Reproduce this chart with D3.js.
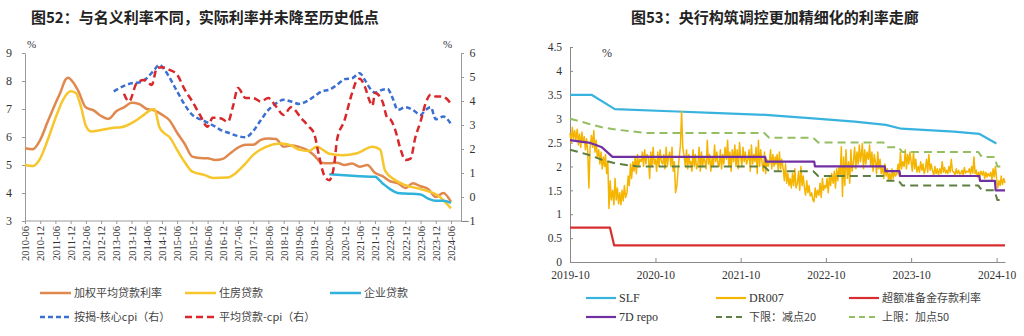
<!DOCTYPE html>
<html lang="zh">
<head>
<meta charset="UTF-8">
<title>图52 / 图53</title>
<script src="https://d3js.org/d3.v7.min.js"></script>
<style>
  body { margin: 0; background: #fff; }
  svg { display: block; }
  .num { font-family: "Liberation Serif", "Times New Roman", serif; fill: #333; }
  .cjk { font-family: "Noto Sans CJK SC", sans-serif; fill: #444; }
  .title { font-family: "Noto Sans CJK SC", sans-serif; font-weight: bold; font-size: 15px; fill: #222; }
</style>
</head>
<body>
<svg id="chart" width="1024" height="336"></svg>
<script>
// ---------- 图52 data (monthly points, "YYYY-MM") ----------
const wavgRate = [["2010-06",5.60],["2010-09",5.56],["2010-12",5.90],["2011-03",6.55],["2011-06",7.20],["2011-08",7.60],
  ["2011-10",8.05],["2011-11",8.12],["2012-01",7.95],["2012-03",7.65],["2012-06",7.05],["2012-09",6.95],["2012-12",6.75],
  ["2013-03",6.65],["2013-06",6.92],["2013-09",7.06],["2013-12",7.22],["2014-03",7.18],["2014-06",7.00],["2014-09",6.95],
  ["2014-12",6.80],["2015-03",6.60],["2015-06",6.15],["2015-09",5.75],["2015-12",5.30],["2016-03",5.25],["2016-06",5.24],
  ["2016-09",5.18],["2016-12",5.22],["2017-03",5.42],["2017-06",5.62],["2017-09",5.72],["2017-12",5.72],["2018-03",5.90],
  ["2018-06",5.95],["2018-09",5.93],["2018-12",5.65],["2019-03",5.70],["2019-06",5.65],["2019-09",5.55],["2019-12",5.35],
  ["2020-03",5.08],["2020-06",5.06],["2020-09",5.08],["2020-12",5.00],["2021-03",5.05],["2021-06",4.94],["2021-09",5.00],
  ["2021-12",4.72],["2022-03",4.60],["2022-06",4.42],["2022-09",4.35],["2022-12",4.18],["2023-03",4.35],["2023-06",4.24],
  ["2023-09",4.14],["2023-12",3.86],["2024-03",4.00],["2024-06",3.68]];

const mortgageRate = [["2010-06",5.00],["2010-09",4.96],["2010-12",5.24],["2011-03",5.90],["2011-06",6.67],["2011-09",7.33],
  ["2011-12",7.63],["2012-02",7.57],["2012-04",7.10],["2012-06",6.40],["2012-08",6.20],["2012-12",6.25],["2013-05",6.33],
  ["2013-08",6.35],["2014-01",6.55],["2014-05",6.80],["2014-08",6.98],["2014-09",7.00],["2014-11",6.35],["2015-01",6.13],
  ["2015-03",6.00],["2015-06",5.54],["2015-09",5.10],["2015-12",4.76],["2016-05",4.64],["2016-08",4.54],["2017-02",4.55],
  ["2017-05",4.70],["2017-09",5.06],["2017-12",5.36],["2018-05",5.65],["2018-11",5.77],["2019-03",5.70],["2019-06",5.55],
  ["2019-10",5.50],["2020-01",5.65],["2020-06",5.40],["2020-11",5.35],["2021-05",5.42],["2021-11",5.65],["2022-02",5.55],
  ["2022-04",4.80],["2022-08",4.46],["2022-12",4.28],["2023-06",4.14],["2024-01",3.90],["2024-06",3.45]];

const corpRate = [["2020-06",4.67],["2020-12",4.63],["2021-06",4.60],["2021-12",4.58],["2022-03",4.35],["2022-06",4.14],
  ["2022-09",4.00],["2022-12",3.98],["2023-06",3.95],["2023-09",3.80],["2023-12",3.72],["2024-03",3.72],["2024-06",3.65]];

// right axis
const mortgageRealCore = [["2013-05",4.40],["2013-09",4.63],["2013-12",4.74],["2014-03",4.77],["2014-06",4.95],["2014-09",5.30],
  ["2014-11",5.51],["2015-01",5.30],["2015-06",4.40],["2015-09",3.84],["2015-12",3.42],["2016-03",3.24],["2016-06",3.10],
  ["2016-09",2.93],["2016-11",2.80],["2017-03",2.65],["2017-05",2.57],["2017-09",2.49],["2017-12",2.75],["2018-03",3.20],
  ["2018-06",3.63],["2018-09",3.90],["2018-12",4.05],["2019-03",3.98],["2019-06",3.88],["2019-09",3.98],["2019-12",4.19],
  ["2020-03",4.40],["2020-06",4.47],["2020-09",4.67],["2020-12",4.91],["2021-03",4.95],["2021-06",5.16],["2021-08",4.88],
  ["2021-10",4.53],["2021-12",4.35],["2022-03",4.47],["2022-05",4.50],["2022-07",4.12],["2022-09",3.63],["2022-12",3.74],
  ["2023-03",3.63],["2023-06",3.42],["2023-08",3.63],["2023-10",3.74],["2023-12",3.24],["2024-03",3.35],["2024-06",3.04]];

const loanRealCpi = [["2013-09",4.30],["2013-11",3.98],["2014-02",4.74],["2014-05",4.88],["2014-08",4.67],["2014-10",5.37],
  ["2014-12",5.41],["2015-03",5.30],["2015-06",5.10],["2015-09",4.47],["2015-12",3.98],["2016-03",3.42],["2016-06",2.93],
  ["2016-08",3.30],["2016-11",3.28],["2017-02",3.14],["2017-04",3.77],["2017-06",4.54],["2017-09",4.12],["2017-12",4.12],
  ["2018-03",3.98],["2018-06",4.12],["2018-09",3.77],["2018-12",3.42],["2019-03",3.74],["2019-07",3.28],["2019-10",2.93],
  ["2019-12",2.65],["2020-02",1.68],["2020-04",0.90],["2020-06",0.70],["2020-08",1.40],["2020-09",2.37],["2020-12",3.20],
  ["2021-03",4.33],["2021-05",4.88],["2021-06",4.93],["2021-08",4.60],["2021-10",3.98],["2021-11",3.80],["2021-12",4.33],
  ["2022-03",3.98],["2022-05",3.28],["2022-06",3.24],["2022-08",2.80],["2022-10",2.03],["2022-12",1.54],["2023-02",1.60],
  ["2023-04",2.50],["2023-06",3.14],["2023-08",3.90],["2023-10",4.26],["2023-12",4.19],["2024-02",4.19],["2024-04",4.12],
  ["2024-06",3.88]];

const leftTicksL = [3, 4, 5, 6, 7, 8, 9];
const leftTicksR = [-1, 0, 1, 2, 3, 4, 5, 6];

// ---------- 图53 data (daily dates) ----------
const slf = [["2019-10-01",3.50],["2020-01-01",3.50],["2020-04-10",3.20],["2020-12-31",3.15],["2021-06-01",3.12],
  ["2022-01-15",3.08],["2022-08-20",3.00],["2023-02-01",2.94],["2023-06-15",2.87],["2023-08-20",2.79],["2024-04-01",2.73],
  ["2024-07-20",2.68],["2024-09-30",2.48]];

const excessReserve = [["2019-10-01",0.72],["2020-03-20",0.72],["2020-04-07",0.35],["2024-11-06",0.35]];

const repo7d = [["2019-10-01",2.55],["2019-11-15",2.52],["2019-12-20",2.50],["2020-01-20",2.45],["2020-02-15",2.40],
  ["2020-03-31",2.20],["2022-01-14",2.20],["2022-01-17",2.10],["2022-08-12",2.10],["2022-08-15",2.00],["2023-06-10",2.00],
  ["2023-06-13",1.90],["2023-08-12",1.90],["2023-08-15",1.80],["2024-07-19",1.80],["2024-07-22",1.70],["2024-09-24",1.70],
  ["2024-09-27",1.50],["2024-11-06",1.50]];

const upperBand = [["2019-10-01",3.00],["2019-12-15",2.90],["2020-02-15",2.82],["2020-04-15",2.77],["2020-06-15",2.74],
  ["2020-08-15",2.70],["2022-01-10",2.70],["2022-01-31",2.60],["2022-08-08",2.60],["2022-08-29",2.50],["2023-06-05",2.50],
  ["2023-06-20",2.40],["2023-08-08",2.40],["2023-08-25",2.30],["2024-07-15",2.30],["2024-07-30",2.20],["2024-09-22",2.20],
  ["2024-10-04",2.00],["2024-10-25",2.00]];

const lowerBand = [["2019-10-01",2.35],["2019-12-15",2.25],["2020-02-15",2.14],["2020-04-15",2.06],["2020-06-15",2.02],
  ["2020-07-20",2.00],["2022-01-10",2.00],["2022-01-31",1.90],["2022-08-08",1.90],["2022-08-29",1.80],["2023-06-05",1.80],
  ["2023-06-20",1.70],["2023-08-08",1.70],["2023-08-25",1.60],["2024-07-15",1.60],["2024-07-30",1.50],["2024-09-22",1.50],
  ["2024-10-04",1.30],["2024-10-25",1.30]];

// DR007: readings per month (spread through the month)
const dr007 = [
  ["2019-10",[2.70,2.50,2.82,2.58,2.75,2.55]], ["2019-11",[2.78,2.45,2.68,2.40,2.72,2.50]],
  ["2019-12",[2.62,2.35,2.58,2.30,1.55,2.40]], ["2020-01",[2.65,2.40,2.75,2.30,2.55,2.20]],
  ["2020-02",[2.35,2.05,2.30,1.95,2.20,2.00]], ["2020-03",[2.25,1.85,2.10,1.12,1.70,1.30]],
  ["2020-04",[1.50,1.20,1.75,1.30,1.55,1.22]], ["2020-05",[1.45,1.20,1.50,1.28,1.60,1.35]],
  ["2020-06",[1.45,1.80,1.60,2.05,1.75,2.10]], ["2020-07",[1.90,2.20,1.85,2.25,2.00,2.15]],
  ["2020-08",[2.10,2.30,2.00,2.35,2.05,2.25]], ["2020-09",[2.20,1.75,2.30,2.00,2.40,2.05]],
  ["2020-10",[2.15,1.90,2.30,2.00,2.35,2.10]], ["2020-11",[2.05,2.25,1.95,2.40,2.00,2.20]],
  ["2020-12",[2.30,2.00,2.40,1.90,2.10,1.45]], ["2021-01",[1.60,1.95,2.20,2.45,3.15,2.40]],
  ["2021-02",[2.20,2.00,2.35,1.95,2.25,2.05]], ["2021-03",[2.10,1.90,2.35,2.00,2.25,1.95]],
  ["2021-04",[2.05,2.40,1.90,2.30,2.00,2.20]], ["2021-05",[2.10,1.95,2.55,2.05,2.25,1.90]],
  ["2021-06",[2.20,2.00,2.45,2.10,2.30,2.05]], ["2021-07",[2.00,2.35,1.95,2.25,2.05,2.40]],
  ["2021-08",[2.15,2.55,2.00,2.30,1.90,2.35]], ["2021-09",[2.10,2.45,2.00,2.35,1.95,2.50]],
  ["2021-10",[2.20,2.00,2.40,2.10,2.30,2.05]], ["2021-11",[2.15,2.35,1.90,2.45,2.05,2.25]],
  ["2021-12",[2.10,2.40,1.85,2.55,2.00,2.35]], ["2022-01",[2.05,1.90,2.30,1.85,2.15,2.00]],
  ["2022-02",[2.10,2.35,1.95,2.25,2.00,2.20]], ["2022-03",[2.05,2.25,1.90,2.30,1.95,2.15]],
  ["2022-04",[1.95,1.70,2.05,1.65,1.85,1.60]], ["2022-05",[1.75,1.55,1.85,1.60,1.95,1.55]],
  ["2022-06",[1.65,1.90,1.50,2.00,1.60,1.80]], ["2022-07",[1.55,1.40,1.70,1.45,1.60,1.38]],
  ["2022-08",[1.45,1.30,1.26,1.55,1.35,1.50]], ["2022-09",[1.40,1.65,1.35,1.75,1.50,1.60]],
  ["2022-10",[1.55,1.75,1.45,1.80,1.60,1.85]], ["2022-11",[1.65,1.90,1.55,1.95,1.70,2.00]],
  ["2022-12",[1.80,2.41,1.37,2.20,1.60,2.35]], ["2023-01",[1.75,2.10,1.65,2.35,1.90,2.05]],
  ["2023-02",[2.40,1.95,2.30,2.05,2.45,2.10]], ["2023-03",[2.20,2.48,1.95,2.35,2.05,2.30]],
  ["2023-04",[2.15,2.45,2.00,2.30,1.90,2.25]], ["2023-05",[2.10,1.85,2.30,1.95,2.15,1.85]],
  ["2023-06",[2.00,1.75,2.05,1.80,1.95,1.72]], ["2023-07",[1.85,1.70,1.95,1.75,1.90,1.80]],
  ["2023-08",[1.85,2.05,1.80,2.30,1.95,2.10]], ["2023-09",[2.00,2.35,1.95,2.25,2.05,2.30]],
  ["2023-10",[2.10,1.90,2.30,1.95,2.15,1.88]], ["2023-11",[2.00,1.88,2.10,1.92,2.05,1.85]],
  ["2023-12",[1.95,2.15,1.88,2.25,1.92,2.05]], ["2024-01",[1.90,1.82,2.00,1.85,1.95,1.83]],
  ["2024-02",[1.95,1.85,2.10,1.88,1.98,1.86]], ["2024-03",[1.92,1.85,2.00,1.88,2.15,1.90]],
  ["2024-04",[1.88,1.82,1.95,1.85,1.92,1.84]], ["2024-05",[1.85,1.92,1.82,1.98,1.86,1.90]],
  ["2024-06",[1.88,1.95,1.84,2.00,1.86,2.20]], ["2024-07",[1.85,1.92,1.78,1.88,1.80,1.90]],
  ["2024-08",[1.82,1.90,1.75,1.88,1.78,1.85]], ["2024-09",[1.80,1.88,1.72,1.95,1.78,2.00]],
  ["2024-10",[1.75,1.55,1.70,1.60,1.80,1.62]], ["2024-11",[1.75,1.65]]
];

const rightTicksY = [0, 0.5, 1, 1.5, 2, 2.5, 3, 3.5, 4, 4.5];
const rightTicksX = ["2019-10","2020-10","2021-10","2022-10","2023-10","2024-10"];

// ---------- drawing ----------
const svg = d3.select("#chart");
const parseM = d3.timeParse("%Y-%m");
const parseD = d3.timeParse("%Y-%m-%d");
const axisColor = "#9a9a9a";

// ===== 图52 =====
svg.append("text").attr("class", "title").attr("x", 31).attr("y", 23)
  .text("图52：与名义利率不同，实际利率并未降至历史低点");

const xL = d3.scaleTime().domain([parseM("2010-06"), parseM("2024-06")]).range([25, 451]);
const yL = d3.scaleLinear().domain([3, 9]).range([221, 53]);
const yR = d3.scaleLinear().domain([-1, 6]).range([221, 53]);

const halfYears = [];
for (let y = 2010; y <= 2024; y++) {
  ["06", "12"].forEach(m => {
    const d = parseM(y + "-" + m);
    if (d >= xL.domain()[0] && d <= xL.domain()[1]) halfYears.push(d);
  });
}

const gL = svg.append("g");
const axL = gL.append("g").attr("transform", "translate(25,0)")
  .call(d3.axisLeft(yL).tickValues(leftTicksL).tickFormat(d3.format("d"))
    .tickSize(3).tickPadding(10).tickSizeOuter(0));
const axR = gL.append("g").attr("transform", "translate(461,0)")
  .call(d3.axisRight(yR).tickValues(leftTicksR).tickFormat(d3.format("d"))
    .tickSize(3).tickPadding(4).tickSizeOuter(0));
axR.selectAll("text").attr("text-anchor", "end").attr("x", 14.5);
const axB = gL.append("g").attr("transform", "translate(0,221)")
  .call(d3.axisBottom(xL).tickValues(halfYears).tickFormat(d3.timeFormat("%Y-%m")).tickSize(3).tickSizeOuter(0));
axB.selectAll("text").attr("transform", "rotate(-90)").attr("x", -5).attr("y", 0)
  .attr("dy", "0.35em").attr("text-anchor", "end").style("font-size", "10.5px");
axB.select(".domain").attr("d", "M25,0H461");
[axL, axR].forEach(a => a.selectAll("text").style("font-size", "12px"));
[axL, axR, axB].forEach(a => {
  a.attr("font-family", null).attr("font-size", null);
  a.selectAll("text").attr("class", "num").attr("fill", null);
  a.selectAll("line, path").attr("stroke", axisColor);
});
gL.append("text").attr("class", "num").attr("x", 27).attr("y", 48).style("font-size", "11px").text("%");
gL.append("text").attr("class", "num").attr("x", 443).attr("y", 48).style("font-size", "11px").text("%");

const leftSeries = [
  { name: "加权平均贷款利率", data: wavgRate, y: yL, color: "#E0894F", dash: null },
  { name: "住房贷款", data: mortgageRate, y: yL, color: "#F6C62C", dash: null },
  { name: "企业贷款", data: corpRate, y: yL, color: "#2FB2DB", dash: null },
  { name: "按揭-核心cpi（右）", data: mortgageRealCore, y: yR, color: "#3C6FD2", dash: "5,3" },
  { name: "平均贷款-cpi（右）", data: loanRealCpi, y: yR, color: "#D8282B", dash: "7,4" }
];

leftSeries.forEach(s => {
  const line = d3.line().curve(d3.curveMonotoneX)
    .x(d => xL(parseM(d[0]))).y(d => s.y(d[1]));
  gL.append("path").datum(s.data).attr("d", line)
    .attr("fill", "none").attr("stroke", s.color).attr("stroke-width", 2.5)
    .attr("stroke-dasharray", s.dash);
});

const legL = [[40, 293], [185, 293], [330, 293], [40, 317], [185, 317]];
leftSeries.forEach((s, i) => {
  const [lx, ly] = legL[i];
  svg.append("line").attr("x1", lx).attr("x2", lx + 31).attr("y1", ly).attr("y2", ly)
    .attr("stroke", s.color).attr("stroke-width", 2.5).attr("stroke-dasharray", s.dash);
  svg.append("text").attr("class", "cjk").attr("x", lx + 34).attr("y", ly).attr("dy", "0.35em")
    .style("font-size", "11px").text(s.name);
});

// ===== 图53 =====
svg.append("text").attr("class", "title").attr("x", 631).attr("y", 23)
  .text("图53：央行构筑调控更加精细化的利率走廊");

const x2 = d3.scaleTime().domain([parseD("2019-10-01"), parseD("2024-11-06")]).range([570, 1005]);
const y2 = d3.scaleLinear().domain([0, 4.5]).range([262, 47]);

const g2 = svg.append("g");
const ax2L = g2.append("g").attr("transform", "translate(570,0)")
  .call(d3.axisLeft(y2).tickValues(rightTicksY).tickSizeInner(-3).tickSizeOuter(0).tickPadding(8)
    .tickFormat(d3.format("~g")));
const ax2B = g2.append("g").attr("transform", "translate(0,262)")
  .call(d3.axisBottom(x2).tickValues(rightTicksX.map(parseM)).tickFormat(d3.timeFormat("%Y-%m"))
    .tickSizeInner(-4).tickSizeOuter(0).tickPadding(9));
[ax2L, ax2B].forEach(a => {
  a.attr("font-family", null).attr("font-size", null);
  a.selectAll("text").attr("class", "num").attr("fill", null).style("font-size", "11.5px");
  a.selectAll("line, path").attr("stroke", "#8a8a8a");
});
g2.append("text").attr("class", "num").attr("x", 602).attr("y", 57).style("font-size", "12px").text("%");

const dr007Points = [];
dr007.forEach(([m, vals]) => {
  const start = parseM(m);
  vals.forEach((v, i) => dr007Points.push([d3.timeDay.offset(start, i * 5), v]));
});

const line2 = d3.line().x(d => x2(d[0])).y(d => y2(d[1]));
const asDates = arr => arr.map(d => [parseD(d[0]), d[1]]);

const rightSeries = [
  { name: "SLF", data: asDates(slf), color: "#38B3DE", width: 2.2, dash: null },
  { name: "DR007", data: dr007Points, color: "#F5B400", width: 1.5, dash: null },
  { name: "超额准备金存款利率", data: asDates(excessReserve), color: "#D72F2F", width: 2.2, dash: null },
  { name: "7D repo", data: asDates(repo7d), color: "#7030A0", width: 2.2, dash: null },
  { name: "下限：减点20", data: asDates(lowerBand), color: "#5E7F41", width: 2, dash: "8,5" },
  { name: "上限：加点50", data: asDates(upperBand), color: "#94BE62", width: 2, dash: "8,5" }
];

[0, 2, 1, 4, 5, 3].forEach(i => {
  const s = rightSeries[i];
  g2.append("path").datum(s.data).attr("d", line2)
    .attr("fill", "none").attr("stroke", s.color).attr("stroke-width", s.width)
    .attr("stroke-dasharray", s.dash).attr("stroke-linejoin", "round");
});

const leg2 = [[586, 298], [716, 298], [849, 298], [586, 317], [716, 317], [849, 317]];
rightSeries.forEach((s, i) => {
  const [lx, ly] = leg2[i];
  svg.append("line").attr("x1", lx).attr("x2", lx + 30).attr("y1", ly).attr("y2", ly)
    .attr("stroke", s.color).attr("stroke-width", 2.2).attr("stroke-dasharray", s.dash ? "6,4" : null);
  const isLatin = /^[A-Za-z0-9 ]+$/.test(s.name);
  svg.append("text").attr("class", isLatin ? "num" : "cjk").attr("x", lx + 33).attr("y", ly).attr("dy", "0.35em")
    .style("font-size", isLatin ? "12px" : "11px").text(s.name);
});
</script>
</body>
</html>
